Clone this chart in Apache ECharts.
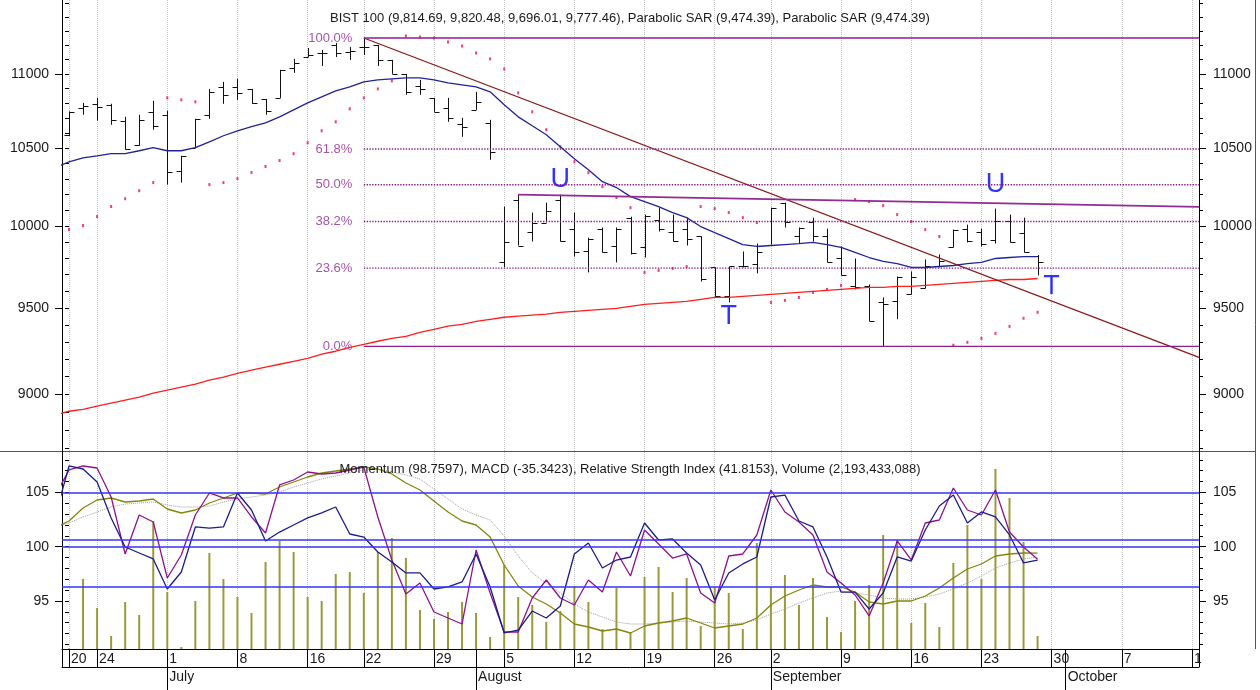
<!DOCTYPE html>
<html>
<head>
<meta charset="utf-8">
<title>BIST 100</title>
<script src="https://cdn.jsdelivr.net/npm/echarts@6/dist/echarts.min.js"></script>
<style>
  html, body { margin: 0; padding: 0; background: #fff; }
  #main { width: 1260px; height: 690px; }
</style>
</head>
<body>
<div id="main"></div>
<script>
// trading days, 2024-06-20 .. 2024-10-14 (axis runs past the last bar)
const days = [
  '2024-06-20', '2024-06-21', '2024-06-24', '2024-06-25', '2024-06-26', '2024-06-27', '2024-06-28',
  '2024-07-01', '2024-07-02', '2024-07-03', '2024-07-04', '2024-07-05',
  '2024-07-08', '2024-07-09', '2024-07-10', '2024-07-11', '2024-07-12',
  '2024-07-16', '2024-07-17', '2024-07-18', '2024-07-19',
  '2024-07-22', '2024-07-23', '2024-07-24', '2024-07-25', '2024-07-26',
  '2024-07-29', '2024-07-30', '2024-07-31', '2024-08-01', '2024-08-02',
  '2024-08-05', '2024-08-06', '2024-08-07', '2024-08-08', '2024-08-09',
  '2024-08-12', '2024-08-13', '2024-08-14', '2024-08-15', '2024-08-16',
  '2024-08-19', '2024-08-20', '2024-08-21', '2024-08-22', '2024-08-23',
  '2024-08-26', '2024-08-27', '2024-08-28', '2024-08-29',
  '2024-09-02', '2024-09-03', '2024-09-04', '2024-09-05', '2024-09-06',
  '2024-09-09', '2024-09-10', '2024-09-11', '2024-09-12', '2024-09-13',
  '2024-09-16', '2024-09-17', '2024-09-18', '2024-09-19', '2024-09-20',
  '2024-09-23', '2024-09-24', '2024-09-25', '2024-09-26', '2024-09-27',
  '2024-09-30', '2024-10-01', '2024-10-02', '2024-10-03', '2024-10-04',
  '2024-10-07', '2024-10-08', '2024-10-09', '2024-10-10', '2024-10-11',
  '2024-10-14'
];
const dayTickIndex = [0, 2, 7, 12, 17, 21, 26, 31, 36, 41, 46, 50, 55, 60, 65, 70, 75, 80];
const dayTickLabels = ['20', '24', '1', '8', '16', '22', '29', '5', '12', '19', '26', '2', '9', '16', '23', '30', '7', '1'];
const monthTickIndex = [7, 29, 50, 71];
const monthLabels = ['July', 'August', 'September', 'October'];

// BIST 100 daily bars
const open = [10589, 10769, 10796, 10789, 10682, 10522, 10742, 10722, 10353, 10503,
  10722, 10911, 10911, 10897, 10829, 10836, 11041, 11117, 11145, 11201,
  11152, 11187, 11201, 11097, 11000, 10918, 10836, 10769, 10662, 10755,
  10668, 9775, 10167, 9966, 10022, 10167, 9984, 9848, 9984, 9873,
  10053, 9867, 10041, 9966, 9984, 9935, 9744, 9569, 9756, 9768,
  9885, 10148, 9935, 10028, 9935, 9805, 9629, 9629, 9533, 9539,
  9581, 9617, 9756, 9867, 9984, 9966, 9916, 10034, 9959, 9814.69];
const high = [10745, 10802, 10836, 10796, 10708, 10722, 10816, 10749, 10450, 10695,
  10897, 10945, 10966, 10897, 10829, 11028, 11104, 11180, 11166, 11215,
  11187, 11250, 11201, 11097, 11000, 10959, 10836, 10836, 10702, 10877,
  10688, 10123, 10199, 10085, 10148, 10199, 10085, 9928, 9991, 9991,
  10059, 10072, 10116, 10072, 10053, 9935, 9744, 9750, 9842, 9891,
  10116, 10148, 9991, 10053, 9984, 9873, 9799, 9641, 9563, 9689,
  9720, 9793, 9824, 9978, 10009, 9984, 10110, 10072, 10053, 9820.48];
const low = [10580, 10722, 10682, 10655, 10490, 10516, 10622, 10263, 10276, 10503,
  10695, 10796, 10823, 10796, 10722, 10836, 11007, 11117, 11055, 11117,
  11097, 11131, 11055, 11000, 10857, 10857, 10742, 10675, 10575, 10755,
  10424, 9744, 9879, 9904, 10022, 9904, 9811, 9714, 9836, 9775,
  9824, 9805, 9966, 9904, 9879, 9659, 9563, 9533, 9744, 9708,
  9885, 9991, 9891, 9904, 9775, 9695, 9611, 9421, 9274, 9433,
  9581, 9617, 9744, 9867, 9898, 9873, 9891, 9898, 9836, 9696.01];
const close = [10740, 10782, 10776, 10688, 10496, 10688, 10648, 10346, 10450, 10695,
  10877, 10857, 10870, 10802, 10749, 11028, 11076, 11131, 11145, 11145,
  11159, 11187, 11097, 11000, 10877, 10897, 10742, 10702, 10642, 10809,
  10477, 9898, 9879, 10022, 10097, 9910, 9836, 9922, 9836, 9984,
  9830, 10066, 9984, 9910, 9922, 9671, 9569, 9750, 9756, 9836,
  10116, 10028, 9991, 9935, 9775, 9701, 9623, 9421, 9521, 9689,
  9689, 9756, 9781, 9978, 9904, 9891, 10034, 9898, 9836, 9777.46];

const sar = [9978, 10003, 10060, 10123, 10173, 10224, 10276, 10836, 10823, 10809,
  10263, 10276, 10302, 10341, 10380, 10419, 10464, 10536, 10615, 10675,
  10762, 10836, 10897, 10952, 11264, 11257, 11250, 11222, 11194, 11145,
  11104, 11034, 10870, 10742, 10622, 10510, 10411, 10340, 10250, 10180,
  10116, 9714, 9726, 9738, 9750, 10123, 10110, 10085, 10053, 10022,
  9533, 9545, 9563, 9593, 9611, 9635, 10167, 10154, 10129, 10072,
  10028, 9978, 9935, 9281, 9298, 9321, 9350, 9391, 9439, 9474.39];

// moving averages, first value is the day before the axis starts
const maShort = [10372,
  10411, 10437, 10450, 10464, 10464, 10483, 10503, 10483, 10483, 10503,
  10542, 10582, 10615, 10642, 10668, 10708, 10755, 10802, 10843, 10884,
  10911, 10945, 10959, 10966, 10973, 10973, 10959, 10938, 10925, 10911,
  10877, 10789, 10708, 10648, 10589, 10510, 10431, 10359, 10282, 10244,
  10186, 10154, 10123, 10085, 10053, 9997, 9959, 9922, 9885, 9873,
  9879, 9885, 9891, 9898, 9885, 9867, 9836, 9805, 9781, 9768,
  9744, 9744, 9750, 9756, 9768, 9775, 9799, 9805, 9811, 9811];
const maLong = [8883,
  8905, 8916, 8933, 8950, 8967, 8984, 9006, 9023, 9040, 9057,
  9080, 9097, 9119, 9137, 9154, 9171, 9188, 9205, 9229, 9246,
  9269, 9286, 9304, 9321, 9333, 9356, 9374, 9392, 9403, 9421,
  9433, 9445, 9451, 9457, 9463, 9474, 9480, 9486, 9492, 9498,
  9510, 9521, 9527, 9533, 9539, 9551, 9563, 9563, 9569, 9575,
  9581, 9587, 9593, 9599, 9605, 9611, 9617, 9623, 9623, 9629,
  9629, 9635, 9641, 9647, 9653, 9659, 9665, 9671, 9671, 9677];
const firstLineDay = -1;

// fibonacci retracement from the 22 July high to the 11 September low
const fibLevels = [11250, 10495, 10262, 10029, 9740, 9274];
const fibNames = ['100.0%', '61.8%', '50.0%', '38.2%', '23.6%', '0.0%'];
const fibSolid = [true, false, false, false, false, true];
const fibFromDay = 21;
const axisEndDay = 80.5;

const trendDown = [[21, 11250], [80.5, 9211]];
const trendTop = [[32, 10199], [80.5, 10121]];

const markText = ['U', 'T', 'U', 'T'];
const markDay = [35, 47, 66, 70];
const markPrice = [10295, 9447, 10266, 9626];

// lower panel
const momentum = [102.74,
  107.44, 107.16, 105.96, 102.65, 99.97, 99.42, 98.87, 96.10, 97.67, 101.82,
  101.72, 101.82, 104.95, 103.38, 100.53, 101.35, 102.00, 102.65, 103.11, 103.66,
  101.17, 100.89, 99.51, 98.59, 97.58, 97.58, 96.10, 96.29, 96.75, 99.33,
  96.29, 92.05, 92.32, 94.07, 93.43, 94.53, 99.33, 100.34, 98.04, 98.77,
  99.05, 102.18, 100.62, 100.71, 99.42, 98.31, 95.09, 97.58, 98.41, 99.05,
  104.58, 104.76, 102.37, 101.82, 99.05, 95.82, 95.82, 94.26, 95.73, 99.05,
  98.68, 101.54, 103.75, 104.76, 102.18, 103.20, 102.74, 101.08, 98.50, 98.7597];
const rsi = [68.6,
  79.66, 81.36, 80.51, 68.22, 44.07, 60.59, 57.63, 33.90, 43.64, 60.59,
  69.92, 67.80, 67.80, 59.75, 52.97, 73.31, 75.42, 78.81, 77.97, 78.39,
  79.66, 80.93, 59.75, 41.53, 27.12, 31.78, 19.49, 16.95, 14.41, 45.76,
  27.54, 11.02, 11.02, 25.42, 33.05, 25.42, 22.46, 33.05, 27.97, 44.92,
  34.75, 54.24, 48.31, 42.37, 44.07, 27.54, 23.31, 43.22, 44.07, 52.12,
  71.19, 61.86, 57.63, 52.12, 36.44, 31.78, 26.69, 17.80, 31.78, 49.58,
  41.53, 57.20, 58.47, 72.03, 62.71, 60.59, 71.19, 53.39, 47.03, 41.8153];
const macd = [32.4,
  51.3, 86.4, 108, 113.4, 102.6, 105.3, 110.7, 83.7, 72.9, 81,
  99.9, 113.4, 126.9, 126.9, 124.2, 143.1, 156.6, 170.1, 180.9, 186.3,
  191.7, 197.1, 191.7, 178.2, 153.9, 135, 105.3, 75.6, 51.3, 40.5,
  8.1, -67.5, -124.2, -153.9, -172.8, -197.1, -226.8, -234.9, -245.7, -240.3,
  -251.1, -232.2, -224.1, -218.7, -210.6, -224.1, -237.6, -232.2, -226.8, -210.6,
  -175.5, -151.2, -135, -121.5, -126.9, -126.9, -140.4, -167.4, -172.8, -164.7,
  -164.7, -151.2, -129.6, -102.6, -78.3, -64.8, -43.2, -37.8, -35.1, -35.3423];
const macdSignal = [35.1,
  45.9, 62.1, 75.6, 89.1, 97.2, 99.9, 102.6, 94.5, 89.1, 89.1,
  91.8, 102.6, 110.7, 116.1, 121.5, 129.6, 143.1, 153.9, 164.7, 172.8,
  180.9, 189, 191.7, 183.6, 175.5, 164.7, 137.7, 110.7, 83.7, 67.5,
  54, 10.8, -43.2, -89.1, -116.1, -143.1, -172.8, -194.4, -207.9, -221.4,
  -226.8, -226.8, -224.1, -221.4, -218.7, -221.4, -224.1, -226.8, -224.1, -216,
  -199.8, -186.3, -170.1, -156.6, -143.1, -137.7, -143.1, -148.5, -156.6, -159.3,
  -159.3, -153.9, -145.8, -132.3, -116.1, -97.2, -75.6, -62.1, -51.3, -45.9];
const volumeMn = [100, 11809, 6917, 2193, 7929, 5736, 21594, 9616, 337, 8098,
  16195, 11809, 8772, 6073, 14677, 18220, 16364, 8772, 8098, 12653,
  12990, 9447, 16364, 18726, 15352, 6579, 5061, 6242, 7929, 6073,
  2024, 14171, 8772, 7423, 4555, 6411, 10628, 7929, 3374, 10291,
  2699, 12146, 13833, 9616, 11978, 3880, 10459, 9447, 3374, 17882,
  10459, 12484, 7423, 11978, 5398, 2868, 8098, 10797, 19232, 18388,
  4386, 7760, 3711, 14508, 20919, 11809, 30366, 25474, 18051, 2193.433088];
const guideRsi = [30, 50, 70];
const guideMomentum = 100;

const FONT = '"Liberation Sans", Arial, sans-serif';
const TEXT = '#1a1a1a';

function pairs(values, start) {
  return values.map((v, k) => [start + k, v]);
}

function sideAxes(gridIndex, type, min, max, majors, minors, position) {
  const margin = position === 'left' ? 13 : 14;
  return [
    {
      type, gridIndex, min, max, position,
      axisLine: { show: true, onZero: false, lineStyle: { color: '#000', width: 1 } },
      axisTick: { show: true, length: 7, customValues: majors, lineStyle: { color: '#000' } },
      axisLabel: {
        show: true, customValues: majors, margin,
        formatter: v => String(Math.round(v)),
        color: TEXT, fontSize: 14, fontFamily: FONT
      },
      splitLine: { show: false }
    },
    {
      type, gridIndex, min, max, position,
      axisLine: { show: false },
      axisTick: { show: true, length: 4, customValues: minors, lineStyle: { color: '#000' } },
      axisLabel: { show: false },
      splitLine: { show: false }
    }
  ];
}

const priceMajor = [9000, 9500, 10000, 10500, 11000];
const priceMinor = [];
for (let v = 8700; v <= 11500; v += 100) priceMinor.push(v);
const momMajor = [95, 100, 105];
const momMinor = [];
for (let v = 91; v <= 108; v++) momMinor.push(v);

const dayTickSet = new Set(dayTickIndex);
const monthTickSet = new Set(monthTickIndex);

const gridLines = {
  silent: true,
  z: 1,
  symbol: ['none', 'none'],
  label: { show: false },
  lineStyle: { color: '#c2c2c2', type: 'dotted', width: 1 },
  data: dayTickIndex.map(i => ({ xAxis: i }))
};

function renderBar(params, api) {
  const x = api.value(0);
  const po = api.coord([x, api.value(1)]);
  const ph = api.coord([x, api.value(2)]);
  const pl = api.coord([x, api.value(3)]);
  const pc = api.coord([x, api.value(4)]);
  const cx = Math.round(po[0]) + 0.5;
  const style = { stroke: '#111', lineWidth: 1 };
  return {
    type: 'group',
    children: [
      { type: 'line', shape: { x1: cx, y1: ph[1], x2: cx, y2: pl[1] }, style },
      { type: 'line', shape: { x1: cx - 5, y1: Math.round(po[1]) + 0.5, x2: cx, y2: Math.round(po[1]) + 0.5 }, style },
      { type: 'line', shape: { x1: cx, y1: Math.round(pc[1]) + 0.5, x2: cx + 5, y2: Math.round(pc[1]) + 0.5 }, style }
    ]
  };
}

function makeOption() {
  const fibSeries = fibLevels.map((lvl, k) => ({
    type: 'line',
    xAxisIndex: 0, yAxisIndex: 0,
    data: [[fibFromDay, lvl], [axisEndDay, lvl]],
    symbol: 'none',
    lineStyle: { color: '#8e1f8e', width: 1.4, type: fibSolid[k] ? 'solid' : 'dotted' },
    silent: true
  }));

  return {
    animation: false,
    backgroundColor: '#fff',
    title: [
      {
        text: 'BIST 100 (9,814.69, 9,820.48, 9,696.01, 9,777.46), Parabolic SAR (9,474.39), Parabolic SAR (9,474.39)',
        left: 'center', top: 7,
        textStyle: { fontSize: 13, fontWeight: 'normal', color: TEXT, fontFamily: FONT }
      },
      {
        text: 'Momentum (98.7597), MACD (-35.3423), Relative Strength Index (41.8153), Volume (2,193,433,088)',
        left: 'center', top: 458,
        textStyle: { fontSize: 13, fontWeight: 'normal', color: TEXT, fontFamily: FONT }
      }
    ],
    grid: [
      { left: 62, top: 0, width: 1137, height: 451 },
      { left: 62, top: 451, width: 1137, height: 198 }
    ],
    xAxis: [
      { type: 'value', gridIndex: 0, min: -0.5, max: axisEndDay, show: false },
      { type: 'value', gridIndex: 1, min: -0.5, max: axisEndDay, show: false },
      {
        type: 'category', gridIndex: 1, data: days, position: 'bottom',
        axisLine: { show: true, lineStyle: { color: '#000' } },
        axisTick: { show: true, alignWithLabel: true, length: 18, interval: i => dayTickSet.has(i), lineStyle: { color: '#000' } },
        axisLabel: {
          interval: i => dayTickSet.has(i),
          formatter: (v, i) => dayTickLabels[dayTickIndex.indexOf(i)],
          align: 'left', margin: 3, padding: [0, 0, 0, 2],
          color: TEXT, fontSize: 14, fontFamily: FONT, lineHeight: 14
        },
        splitLine: { show: false }
      },
      {
        type: 'category', gridIndex: 1, data: days, position: 'bottom',
        axisLine: { show: false },
        axisTick: { show: true, alignWithLabel: true, length: 41, interval: i => monthTickSet.has(i), lineStyle: { color: '#000' } },
        axisLabel: {
          interval: i => monthTickSet.has(i),
          formatter: (v, i) => monthLabels[monthTickIndex.indexOf(i)],
          align: 'left', margin: 21, padding: [0, 0, 0, 2],
          color: TEXT, fontSize: 14, fontFamily: FONT, lineHeight: 14
        },
        splitLine: { show: false }
      },
      {
        type: 'category', gridIndex: 1, data: days, position: 'bottom', offset: 18,
        axisLine: { show: true, lineStyle: { color: '#000' } },
        axisTick: { show: false }, axisLabel: { show: false }, splitLine: { show: false }
      }
    ],
    yAxis: [
      ...sideAxes(0, 'log', 8686, 11521, priceMajor, priceMinor, 'left'),
      ...sideAxes(0, 'log', 8686, 11521, priceMajor, priceMinor, 'right'),
      ...sideAxes(1, 'value', 90.57, 108.82, momMajor, momMinor, 'left'),
      ...sideAxes(1, 'value', 90.57, 108.82, momMajor, momMinor, 'right'),
      { type: 'value', gridIndex: 1, min: 3.81, max: 87.71, show: false },
      { type: 'value', gridIndex: 1, min: -294.3, max: 240.3, show: false },
      { type: 'value', gridIndex: 1, min: 0, max: 33403, show: false }
    ],
    series: [
      {
        name: 'BIST 100', type: 'custom', xAxisIndex: 0, yAxisIndex: 0,
        renderItem: renderBar,
        encode: { x: 0, y: [1, 2, 3, 4] },
        data: open.map((o, i) => [i, o, high[i], low[i], close[i]]),
        z: 3
      },
      {
        name: 'Parabolic SAR', type: 'scatter', xAxisIndex: 0, yAxisIndex: 0,
        symbol: 'rect', symbolSize: [2, 3],
        itemStyle: { color: '#f20a5e' },
        data: pairs(sar, 0)
      },
      {
        name: 'MA short', type: 'line', xAxisIndex: 0, yAxisIndex: 0,
        data: pairs(maShort, firstLineDay), symbol: 'none',
        lineStyle: { color: '#22229a', width: 1.3 }
      },
      {
        name: 'MA long', type: 'line', xAxisIndex: 0, yAxisIndex: 0,
        data: pairs(maLong, firstLineDay), symbol: 'none',
        lineStyle: { color: '#ff1e1e', width: 1.3 },
        markLine: gridLines
      },
      {
        name: 'Trend', type: 'line', xAxisIndex: 0, yAxisIndex: 0,
        data: trendDown, symbol: 'none',
        lineStyle: { color: '#8b1a1a', width: 1.3 }
      },
      {
        name: 'Top line', type: 'line', xAxisIndex: 0, yAxisIndex: 0,
        data: trendTop, symbol: 'none',
        lineStyle: { color: '#922b92', width: 1.6 }
      },
      ...fibSeries,
      {
        name: 'Fib labels', type: 'scatter', xAxisIndex: 0, yAxisIndex: 0,
        symbolSize: 1, itemStyle: { color: 'transparent' },
        data: fibLevels.map(l => [fibFromDay, l]),
        label: {
          show: true, position: 'left', distance: 11,
          formatter: p => fibNames[p.dataIndex],
          color: '#8f2a92', fontSize: 13, fontFamily: FONT
        },
        silent: true
      },
      {
        name: 'Marks', type: 'scatter', xAxisIndex: 0, yAxisIndex: 0,
        symbolSize: 1, itemStyle: { color: 'transparent' },
        data: markDay.map((d, k) => [d, markPrice[k]]),
        label: {
          show: true, position: 'inside',
          formatter: p => markText[p.dataIndex],
          color: '#0000ff', fontSize: 27, fontFamily: FONT
        },
        silent: true
      },
      {
        name: 'Volume', type: 'bar', xAxisIndex: 1, yAxisIndex: 10,
        data: pairs(volumeMn, 0), barWidth: 2,
        itemStyle: { color: '#9a9a3c' },
        markLine: gridLines
      },
      {
        name: 'MACD signal', type: 'line', xAxisIndex: 1, yAxisIndex: 9,
        data: pairs(macdSignal, firstLineDay), symbol: 'none',
        lineStyle: { color: '#9c9c9c', width: 1, type: 'dotted' }
      },
      {
        name: 'MACD', type: 'line', xAxisIndex: 1, yAxisIndex: 9,
        data: pairs(macd, firstLineDay), symbol: 'none',
        lineStyle: { color: '#86860c', width: 1.3 }
      },
      {
        name: 'RSI', type: 'line', xAxisIndex: 1, yAxisIndex: 8,
        data: pairs(rsi, firstLineDay), symbol: 'none',
        lineStyle: { color: '#8e148e', width: 1.3 },
        markLine: {
          silent: true, symbol: ['none', 'none'], label: { show: false },
          lineStyle: { color: '#3535ff', type: 'solid', width: 1.5 },
          data: guideRsi.map(v => ({ yAxis: v }))
        }
      },
      {
        name: 'Momentum', type: 'line', xAxisIndex: 1, yAxisIndex: 4,
        data: pairs(momentum, firstLineDay), symbol: 'none',
        lineStyle: { color: '#1c1c90', width: 1.3 },
        markLine: {
          silent: true, symbol: ['none', 'none'], label: { show: false },
          lineStyle: { color: '#3535ff', type: 'solid', width: 1.5 },
          data: [{ yAxis: guideMomentum }]
        }
      }
    ],
    graphic: [
      { type: 'line', shape: { x1: 0, y1: 451.5, x2: 1256, y2: 451.5 }, style: { stroke: '#555', lineWidth: 1 }, silent: true },
      { type: 'line', shape: { x1: 1255.5, y1: 0, x2: 1255.5, y2: 649 }, style: { stroke: '#555', lineWidth: 1 }, silent: true },
      { type: 'line', shape: { x1: 62.5, y1: 649, x2: 62.5, y2: 667 }, style: { stroke: '#000', lineWidth: 1 }, silent: true },
      { type: 'line', shape: { x1: 1199.5, y1: 649, x2: 1199.5, y2: 667 }, style: { stroke: '#000', lineWidth: 1 }, silent: true }
    ]
  };
}

function initChart(element) {
  if (!element) return;
  const chart = echarts.init(element, null, { renderer: 'canvas' });
  chart.setOption(makeOption());
  return chart;
}

addEventListener('load', () => initChart(document.getElementById('main')));
</script>
</body>
</html>
